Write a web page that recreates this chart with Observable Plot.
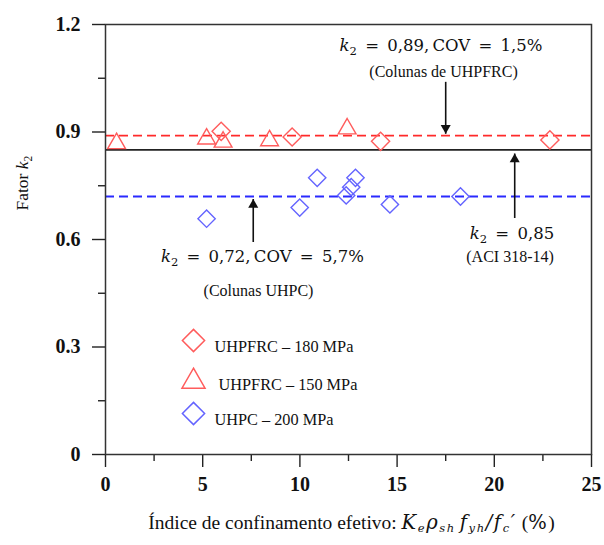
<!DOCTYPE html>
<html>
<head>
<meta charset="utf-8">
<script src="https://cdn.jsdelivr.net/npm/d3@7"></script>
<script src="https://cdn.jsdelivr.net/npm/@observablehq/plot@0.6"></script>
<style>
  html, body { margin: 0; padding: 0; background: #fff; }
  #chart { width: 604px; height: 545px; }
</style>
</head>
<body>
<div id="chart"></div>
<script>
// ---- Data ----
const uhpfrc180X = [5.95, 9.6, 14.15, 22.86];
const uhpfrc180Y = [0.902, 0.886, 0.874, 0.878];

const uhpfrc150X = [0.57, 5.2, 6.05, 8.44, 12.43];
const uhpfrc150Y = [0.868, 0.881, 0.872, 0.876, 0.909];

const uhpcX = [5.2, 9.99, 10.89, 12.38, 12.64, 12.86, 14.63, 18.26];
const uhpcY = [0.658, 0.689, 0.772, 0.723, 0.746, 0.772, 0.698, 0.72];

const meanUHPFRC = 0.89;
const meanUHPC = 0.72;
const aci = 0.85;

const xTicks = [0, 5, 10, 15, 20, 25];
const xMinorTicks = [2.5, 7.5, 12.5, 17.5, 22.5];
const yTicks = [0, 0.3, 0.6, 0.9, 1.2];
const yTickLabels = ["0", "0.3", "0.6", "0.9", "1.2"];
const yMinorTicks = [0.15, 0.45, 0.75, 1.05];

// annotation arrows (x, tail y, tip y)
const arrowX = [17.5, 21.05, 7.6];
const arrowTail = [1.04, 0.66, 0.593];
const arrowTip = [0.895, 0.84, 0.713];

// annotation texts
const annoText = ["k2 = 0,89,\u2009COV = 1,5%", "(Colunas de UHPFRC)", "k2 = 0,72,\u2009COV = 5,7%", "(Colunas UHPC)", "k2 = 0,85", "(ACI 318-14)"];
const annoX = [17.26, 17.39, 8.07, 7.87, 20.91, 20.81];
const annoY = [1.141, 1.069, 0.552, 0.458, 0.617, 0.551];
const annoMath = [true, false, true, false, true, false];

const legendLabels = ["UHPFRC – 180 MPa", "UHPFRC – 150 MPa", "UHPC – 200 MPa"];
const legendSymbols = ["diamond2", "triangle2", "diamond2"];
const legendColors = ["#ff5c5c", "#ff5c5c", "#6464ff"];

const xLabel = "Índice de confinamento efetivo: Keρsh fyh/fc′ (%)";
const yLabel = "Fator k2";

// ---- Build tables ----
const s180 = uhpfrc180X.map((x, i) => ({x, y: uhpfrc180Y[i]}));
const s150 = uhpfrc150X.map((x, i) => ({x, y: uhpfrc150Y[i]}));
const sUHPC = uhpcX.map((x, i) => ({x, y: uhpcY[i]}));
const arrows = arrowX.map((x, i) => ({x, y1: arrowTail[i], y2: arrowTip[i], up: arrowTip[i] > arrowTail[i]}));
const annos = annoText.map((t, i) => ({t, x: annoX[i], y: annoY[i], math: annoMath[i]}));
const legend = legendLabels.map((label, i) => ({label, symbol: legendSymbols[i], color: legendColors[i], i}));

const serif = "'Liberation Serif', 'Times New Roman', serif";
const mathFont = "'DejaVu Serif', serif";

const marks = [
  // minor / major axes
  Plot.axisX({ticks: xMinorTicks, tickSize: 7, text: null, label: null, stroke: "#222", strokeWidth: 1.4}),
  Plot.axisX({ticks: xTicks, tickSize: 13, tickPadding: 9, label: null, fontSize: 20, fontWeight: "bold", stroke: "#222", strokeWidth: 1.4, fill: "#111"}),
  Plot.axisY({ticks: yMinorTicks, tickSize: 7, text: null, label: null, stroke: "#222", strokeWidth: 1.4}),
  Plot.axisY({ticks: yTicks, tickSize: 13, tickPadding: 12, label: null, fontSize: 20, fontWeight: "bold", stroke: "#222", strokeWidth: 1.4, fill: "#111",
    tickFormat: d => yTickLabels[yTicks.indexOf(d)]}),
  // horizontal reference lines
  Plot.ruleY([aci], {stroke: "#222", strokeWidth: 1.8}),
  Plot.ruleY([meanUHPFRC], {stroke: "#ff2a2a", strokeWidth: 1.8, strokeDasharray: "9,5"}),
  Plot.ruleY([meanUHPC], {stroke: "#2a2aff", strokeWidth: 1.8, strokeDasharray: "9,5"}),
  // data
  Plot.dot(s150, {x: "x", y: "y", symbol: "triangle2", r: 8.5, fill: "none", stroke: "#ff5c5c", strokeWidth: 1.4}),
  Plot.dot(s180, {x: "x", y: "y", symbol: "diamond2", r: 8.2, fill: "none", stroke: "#ff5c5c", strokeWidth: 1.4}),
  Plot.dot(sUHPC, {x: "x", y: "y", symbol: "diamond2", r: 7.8, fill: "none", stroke: "#6464ff", strokeWidth: 1.4}),
  // arrows
  Plot.link(arrows, {x1: "x", x2: "x", y1: "y1", y2: "y2", stroke: "#111", strokeWidth: 1.6}),
  Plot.dot(arrows.filter(d => d.up), {x: "x", y: "y2", symbol: "triangle2", r: 4.8, fill: "#111", stroke: "none", dy: 5.8}),
  Plot.dot(arrows.filter(d => !d.up), {x: "x", y: "y2", symbol: "triangle2", r: 4.8, fill: "#111", stroke: "none", rotate: 180, dy: -5.8}),
  // annotation texts
  Plot.text(annos.filter(d => d.math), {x: "x", y: "y", text: "t", fontSize: 16.5, fill: "#111", fontFamily: mathFont}),
  Plot.text(annos.filter(d => !d.math), {x: "x", y: "y", text: "t", fontSize: 16, fill: "#111", fontFamily: serif}),
  // axis titles
  Plot.text([xLabel], {frameAnchor: "bottom", dx: 3, dy: 74, fontSize: 19.5, fill: "#111", fontFamily: serif}),
  Plot.text([yLabel], {frameAnchor: "left", dx: -83, dy: -29, rotate: -90, fontSize: 17.5, fill: "#111", fontFamily: serif}),
  // frame
  Plot.frame({stroke: "#333", strokeWidth: 1.5})
];

// legend (one mark per row, offset from the frame's top-left corner)
const legendRowDy = [316, 357, 389];
const legendTextDy = [316, 354, 389];
legend.forEach(d => {
  marks.push(Plot.dot([d], {frameAnchor: "top-left", dx: 88, dy: legendRowDy[d.i], symbol: d.symbol, r: d.symbol === "triangle2" ? 11 : 10, fill: "none", stroke: d.color, strokeWidth: 1.5}));
  marks.push(Plot.text([d], {frameAnchor: "top-left", dx: d.i === 1 ? 113 : 109, dy: legendTextDy[d.i], text: "label", textAnchor: "start", fontSize: 16.3, fill: "#111", fontFamily: serif}));
});

const plot = Plot.plot({
  width: 604,
  height: 545,
  marginLeft: 105,
  marginRight: 13,
  marginTop: 24,
  marginBottom: 91,
  x: {domain: [0, 25]},
  y: {domain: [0, 1.2]},
  style: {fontFamily: serif, background: "#fff", color: "#111"},
  marks
});

// ---- rich text (italic / subscript) post-processing ----
const I = (t) => ({t, i: true, m: true});
const S = (t) => ({t, i: true, sub: true, m: true});
const N = (t) => ({t});
const rich = {
  "Fator k2": [N("Fator "), {t: "k", i: true}, {t: "2", sub: true}],
  [xLabel]: [N("Índice de confinamento efetivo: "), I("K"), S("e"), I("ρ"), S("sh"), N("\u2009"), I("f"), S("yh"), I("/"), I("f"), S("c"), I("′"), N(" ("), {t: "%", m: true}, N(")")]
};
annoText.forEach(t => {
  if (t.startsWith("k2")) rich[t] = [{t: "k", i: true}, {t: "2", sub: true}, N(t.slice(2).replace(/ = /g, "\u2002=\u2002"))];
});
d3.select(plot).selectAll("text").each(function() {
  const segs = rich[this.textContent];
  if (!segs) return;
  const el = d3.select(this);
  const base = parseFloat(getComputedStyle(this).fontSize) || 16;
  const isX = this.textContent === xLabel;
  el.text(null);
  let pending = 0;
  segs.forEach(s => {
    const ts = el.append("tspan").text(s.t);
    if (s.i) ts.attr("font-style", "italic");
    if (isX && s.m) ts.attr("font-family", mathFont).attr("letter-spacing", "1.6px");
    let shift = 0;
    if (s.sub) { ts.attr("font-size", (base * 0.72).toFixed(2)); shift = base * 0.24; }
    const d = shift - pending;
    if (d !== 0) ts.attr("dy", d.toFixed(2));
    pending = shift;
  });
});

document.getElementById("chart").appendChild(plot);
</script>
</body>
</html>
